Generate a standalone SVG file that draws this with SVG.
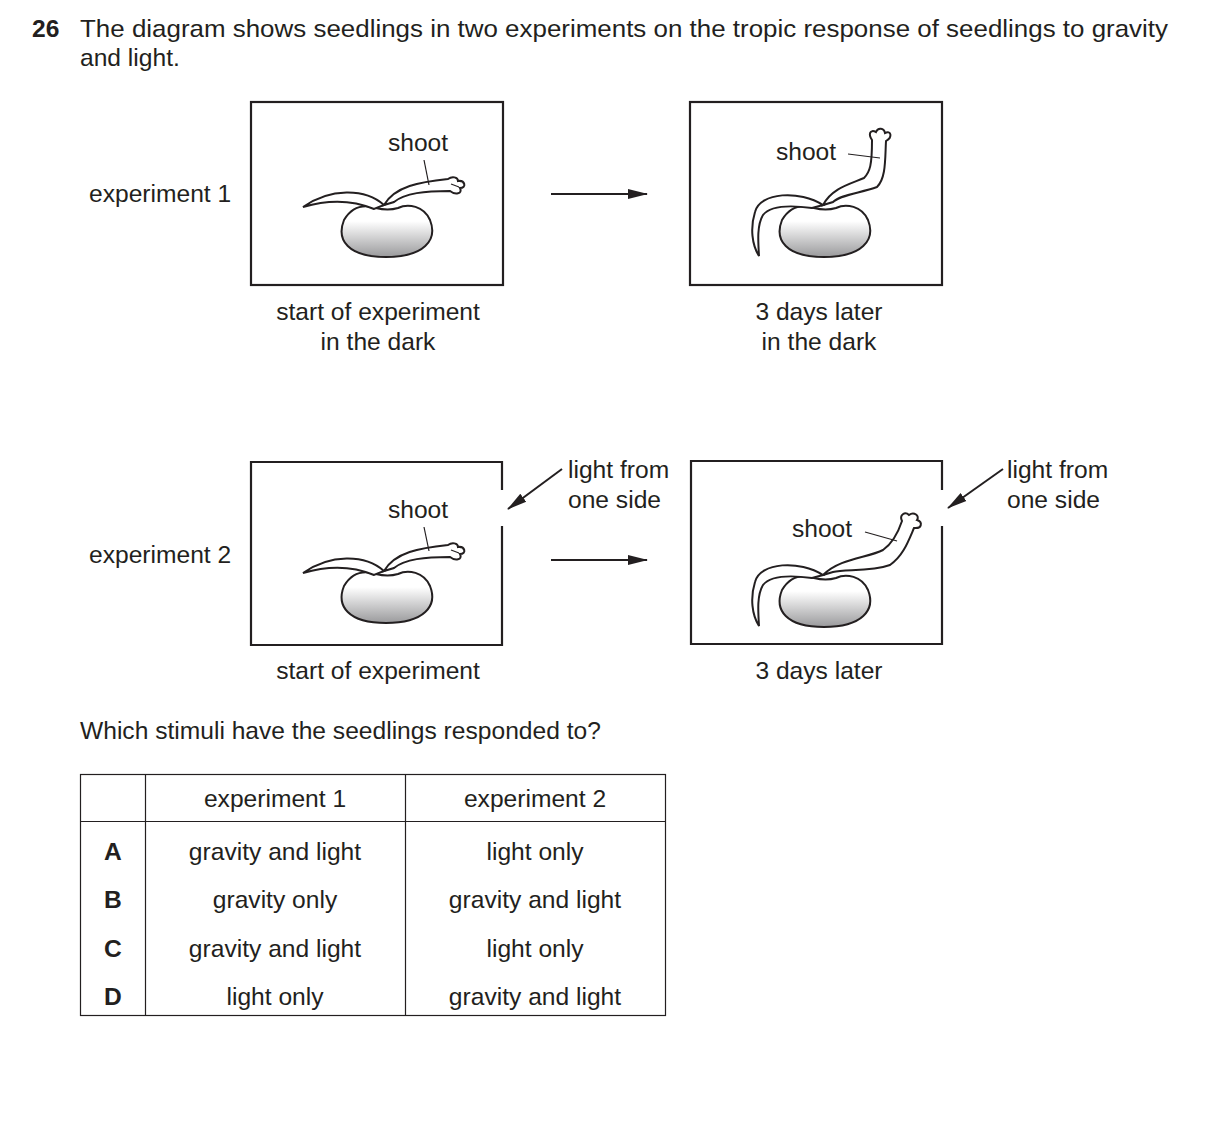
<svg xmlns="http://www.w3.org/2000/svg" width="1209" height="1137" viewBox="0 0 1209 1137">
<style>
text{font-family:"Liberation Sans",Arial,sans-serif;font-size:24.6px;fill:#231f20}
.box{fill:none;stroke:#231f20;stroke-width:2.2}
.ln{fill:none;stroke:#231f20;stroke-width:2}
.pl{fill:#fff;stroke:#231f20;stroke-width:2}
.thin{fill:none;stroke:#231f20;stroke-width:1.2}
.seed{fill:url(#g);stroke:#231f20;stroke-width:2}
.mid{text-anchor:middle}
</style>
<defs>
<linearGradient id="g" x1="0" y1="0" x2="0" y2="1"><stop offset="0.3" stop-color="#fff"/><stop offset="1" stop-color="#9a9a9c"/></linearGradient>
<marker id="ah" viewBox="0 0 20 12" refX="19" refY="6" markerWidth="20" markerHeight="12" orient="auto" markerUnits="userSpaceOnUse"><path d="M0,1 L20,6 L0,11Z" fill="#231f20"/></marker>
<path id="seedshape" class="seed" d="M-42,-10 C-50,10 -38,27 0,27 C38,27 52,10 44,-10 C38,-24 22,-27 12,-22 Q2,-19 -10,-22 C-26,-27 -36,-20 -42,-10Z"/>
</defs>
<text x="32" y="37" style="font-weight:bold">26</text>
<text x="80" y="37" textLength="1088" lengthAdjust="spacingAndGlyphs">The diagram shows seedlings in two experiments on the tropic response of seedlings to gravity</text>
<text x="80" y="66">and light.</text>

<g id="exp1-start">
<text x="89" y="202">experiment 1</text>
<rect class="box" x="251" y="102" width="252" height="183"/>
<use href="#seedshape" x="386" y="230"/>
<path class="pl" d="M384,205 C365,188 330,188 303,207 C330,199 355,201 374,209Z"/>
<path class="pl" d="M384,205 C395,186 420,182 448,179 C452,176 458,177 458,181 C465,180 467,188 460,188 C463,194 455,195 450,191 C425,191 405,193 394,202Z"/>
<path class="thin" d="M451,184 L459,187"/>
<text x="418" y="151" class="mid">shoot</text>
<path class="thin" d="M424,160 L429,185"/>
<text x="378" y="320" class="mid">start of experiment</text>
<text x="378" y="350" class="mid">in the dark</text>
</g>

<g id="exp1-end">
<rect class="box" x="690" y="102" width="252" height="183"/>
<use href="#seedshape" x="824" y="230"/>
<path class="pl" d="M823,205 C800,190 760,192 755,212 C750,228 752,245 759,256 C758,240 757,225 763,215 C770,206 790,205 812,208Z"/>
<path class="pl" d="M823,205 C832,188 850,184 864,178 C870,172 872,165 872,140 C868,134 870,129 876,132 C878,127 884,128 885,133 C891,130 893,137 886,141 C885,160 886,178 877,187 C860,193 840,195 833,202Z"/>
<path class="thin" d="M848,154 L880,158"/>
<text x="806" y="160" class="mid">shoot</text>
<text x="819" y="320" class="mid">3 days later</text>
<text x="819" y="350" class="mid">in the dark</text>
</g>

<g id="exp2-start">
<text x="89" y="563">experiment 2</text>
<path class="box" d="M502,490 V462 H251 V645 H502 V526"/>
<use href="#seedshape" x="386" y="596"/>
<path class="pl" d="M384,571 C365,554 330,554 303,573 C330,565 355,567 374,575Z"/>
<path class="pl" d="M384,571 C395,552 420,548 448,545 C452,542 458,543 458,547 C465,546 467,554 460,554 C463,560 455,561 450,557 C425,557 405,559 394,568Z"/>
<path class="thin" d="M451,550 L459,553"/>
<text x="418" y="518" class="mid">shoot</text>
<path class="thin" d="M424,527 L429,551"/>
<text x="378" y="679" class="mid">start of experiment</text>
</g>

<g id="exp2-end">
<path class="box" d="M942,490 V461 H691 V644 H942 V526"/>
<use href="#seedshape" x="824" y="600"/>
<path class="pl" d="M823,575 C800,560 760,562 755,582 C750,598 752,615 759,626 C758,610 757,595 763,585 C770,576 790,575 812,578Z"/>
<path class="pl" d="M823,575 C840,558 868,558 883,550 C893,543 898,533 902,521 C899,515 905,511 909,515 C914,511 920,516 917,520 C923,522 922,529 914,528 C908,542 903,556 890,565 C870,572 845,569 833,572Z"/>
<path class="thin" d="M865,532 L897,541"/>
<text x="822" y="537" class="mid">shoot</text>
<text x="819" y="679" class="mid">3 days later</text>
</g>

<g id="light1"><text x="568" y="478">light from</text><text x="568" y="508">one side</text></g>
<g id="light2"><text x="1007" y="478">light from</text><text x="1007" y="508">one side</text></g>

<g id="connectors">
<line class="ln" x1="551" y1="194" x2="647" y2="194" marker-end="url(#ah)"/>
<line class="ln" x1="551" y1="560" x2="647" y2="560" marker-end="url(#ah)"/>
<line class="ln" x1="562" y1="469" x2="508" y2="509" marker-end="url(#ah)"/>
<line class="ln" x1="1003" y1="469" x2="948" y2="508" marker-end="url(#ah)"/>
</g>

<text x="80" y="739">Which stimuli have the seedlings responded to?</text>

<g id="table">
<rect x="80.5" y="774.5" width="585" height="241" fill="none" stroke="#231f20" stroke-width="1.2"/>
<path d="M145.5,774 V1016 M405.5,774 V1016 M80,821.5 H666" stroke="#231f20" stroke-width="1.2"/>
<text x="275" y="807" class="mid">experiment 1</text>
<text x="535" y="807" class="mid">experiment 2</text>
<text x="113" y="860" class="mid" style="font-weight:bold">A</text>
<text x="113" y="908" class="mid" style="font-weight:bold">B</text>
<text x="113" y="957" class="mid" style="font-weight:bold">C</text>
<text x="113" y="1005" class="mid" style="font-weight:bold">D</text>
<text x="275" y="860" class="mid">gravity and light</text>
<text x="275" y="908" class="mid">gravity only</text>
<text x="275" y="957" class="mid">gravity and light</text>
<text x="275" y="1005" class="mid">light only</text>
<text x="535" y="860" class="mid">light only</text>
<text x="535" y="908" class="mid">gravity and light</text>
<text x="535" y="957" class="mid">light only</text>
<text x="535" y="1005" class="mid">gravity and light</text>
</g>
</svg>
